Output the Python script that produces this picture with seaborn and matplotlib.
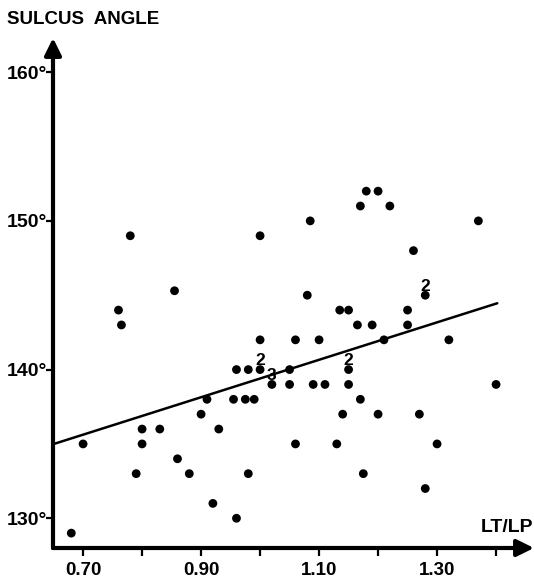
import matplotlib
matplotlib.use("Agg")
import matplotlib.pyplot as plt
import seaborn as sns
import pandas as pd

# ---- data ----
lt_lp = [0.68, 0.70, 0.76, 0.765, 0.78, 0.79, 0.80, 0.80, 0.83, 0.855,
         0.86, 0.88, 0.90, 0.91, 0.92, 0.93, 0.955, 0.96, 0.96, 0.975,
         0.98, 0.98, 0.99, 1.00, 1.00, 1.00, 1.02, 1.05, 1.05, 1.06,
         1.06, 1.08, 1.085, 1.09, 1.10, 1.11, 1.13, 1.135, 1.14, 1.15,
         1.15, 1.15, 1.165, 1.17, 1.17, 1.175, 1.18, 1.19, 1.20, 1.20,
         1.21, 1.22, 1.25, 1.25, 1.26, 1.27, 1.28, 1.28, 1.30, 1.32,
         1.37, 1.40]
sulcus = [129, 135, 144, 143, 149, 133, 136, 135, 136, 145.3,
          134, 133, 137, 138, 131, 136, 138, 140, 130, 138,
          140, 133, 138, 149, 142, 140, 139, 140, 139, 142,
          135, 145, 150, 139, 142, 139, 135, 144, 137, 144,
          140, 139, 143, 151, 138, 133, 152, 143, 152, 137,
          142, 151, 144, 143, 148, 137, 145, 132, 135, 142,
          150, 139]

# points that stand for several cases
multi_lt_lp = [1.00, 1.02, 1.15, 1.28]
multi_sulcus = [140, 139, 140, 145]
multi_count = ["2", "3", "2", "2"]

# regression line end points
line_lt_lp = [0.649, 1.402]
line_sulcus = [134.98, 144.46]

y_ticks = [130, 140, 150, 160]
y_tick_labels = ["130°", "140°", "150°", "160°"]
x_ticks = [0.70, 0.80, 0.90, 1.00, 1.10, 1.20, 1.30, 1.40]
x_tick_labels = ["0.70", "", "0.90", "", "1.10", "", "1.30", ""]

# ---- drawing ----
sns.set_theme(style="white")
plt.rcParams["font.family"] = ["Liberation Sans", "DejaVu Sans"]
plt.rcParams["font.weight"] = "bold"
plt.rcParams["text.color"] = "black"
plt.rcParams["xtick.color"] = "black"
plt.rcParams["ytick.color"] = "black"
plt.rcParams["xtick.labelcolor"] = "black"
plt.rcParams["ytick.labelcolor"] = "black"

W, H = 534, 578
fig = plt.figure(figsize=(W / 100, H / 100), dpi=100)
ax = fig.add_axes([53 / W, 30 / H, 481 / W, 510 / H])

df = pd.DataFrame({"lt_lp": lt_lp, "sulcus": sulcus})
sns.scatterplot(data=df, x="lt_lp", y="sulcus", color="black", s=40,
                edgecolor="none", linewidth=0, ax=ax, zorder=3)
sns.lineplot(x=line_lt_lp, y=line_sulcus, color="black", linewidth=1.8,
             ax=ax, zorder=2)

for xv, yv, n in zip(multi_lt_lp, multi_sulcus, multi_count):
    ax.annotate(n, xy=(xv, yv), xytext=(0, 3.4), textcoords="offset points",
                ha="center", va="baseline", fontsize=12.5, fontweight="bold",
                color="black")

ax.set_xlim(0.649, 1.4643)
ax.set_ylim(128.0, 162.3)

for s in ax.spines.values():
    s.set_visible(False)

arrow = dict(arrowstyle="-|>,head_length=0.85,head_width=0.42", lw=3,
             color="black", shrinkA=0, shrinkB=0)
ax.annotate("", xy=(0, 1), xytext=(0, 0), xycoords="axes fraction", arrowprops=arrow)
ax.annotate("", xy=(1, 0), xytext=(0, 0), xycoords="axes fraction", arrowprops=arrow)

ax.set_yticks(y_ticks)
ax.set_yticklabels(y_tick_labels)
ax.set_xticks(x_ticks)
ax.set_xticklabels(x_tick_labels)
ax.tick_params(axis="y", direction="out", length=5, width=1.6, pad=-1,
               labelsize=14, left=True, color="black", labelcolor="black")
ax.tick_params(axis="x", direction="out", length=6, width=1.6, pad=4,
               labelsize=13.5, bottom=True, color="black", labelcolor="black")
for lab in ax.get_xticklabels() + ax.get_yticklabels():
    lab.set_fontweight("bold")
ax.set_xlabel("")
ax.set_ylabel("")
ax.grid(False)

fig.text(7 / W, 1 - 20 / H, "SULCUS  ANGLE", ha="left", va="center",
         fontsize=13.5, fontweight="bold", color="black")
fig.text(533 / W, 1 - 528 / H, "LT/LP", ha="right", va="center",
         fontsize=14, fontweight="bold", color="black")

fig.savefig("out.png", dpi=100, facecolor="white")
